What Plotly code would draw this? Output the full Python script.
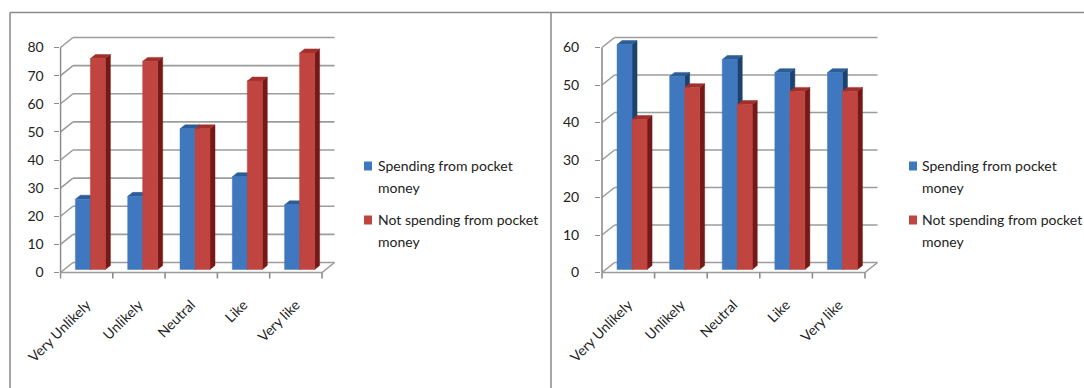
import plotly.graph_objects as go

# ---- data -------------------------------------------------------------
categories = ["Very Unlikely", "Unlikely", "Neutral", "Like", "Very like"]
series_labels = [["Spending from pocket", "money"],
                 ["Not spending from pocket", "money"]]

left_spending = [25, 26, 50, 33, 23]
left_not_spending = [75, 74, 50, 67, 77]
left_ticks = [0, 10, 20, 30, 40, 50, 60, 70, 80]

right_spending = [60, 51.5, 56, 52.5, 52.5]
right_not_spending = [40, 48.5, 44, 47.5, 47.5]
right_ticks = [0, 10, 20, 30, 40, 50, 60]

# ---- styling ----------------------------------------------------------
W, H = 1084, 388
FONT = "Lato, Carlito, Calibri, 'Open Sans', sans-serif"
TEXT = "#222222"
GRID = "#9c9c9c"
AXIS = "#8c8c8c"
BLUE = dict(front="#4078bf", top="#2c5d97", side="#1c426e")
RED = dict(front="#c0443f", top="#a1302c", side="#761916")

# pixel frame of each 3-D plot (front-left corner, front-right corner,
# zero level, top tick level) and the subplot box around it
panels = [
    dict(series=(left_spending, left_not_spending), ticks=left_ticks,
         fx0=60.5, fx1=322.0, y0=272.5, ytop=47.5,
         dl=59.5, dr=346.0, dt=20.0, db=279.0, standoff=7,
         legend_x=364.0, legend_text_x=376.0),
    dict(series=(right_spending, right_not_spending), ticks=right_ticks,
         fx0=602.0, fx1=865.0, y0=272.5, ytop=47.5,
         dl=601.0, dr=888.0, dt=20.0, db=279.0, standoff=13,
         legend_x=909.0, legend_text_x=920.0),
]

DEPTH_X, DEPTH_Y = 12.5, 10.0      # wall depth in pixels (right, up)
BAR_PX = 15.0                      # bar face width in pixels
FRONT_FRAC, BACK_FRAC = 0.3, 0.7   # bar position inside the depth

fig = go.Figure()
layout_axes = {}
shapes = []
annotations = []


def closed(pts):
    xs = [p[0] for p in pts] + [pts[0][0], None]
    ys = [p[1] for p in pts] + [pts[0][1], None]
    return xs, ys


for k, p in enumerate(panels, start=1):
    xa = "x" if k == 1 else f"x{k}"
    ya = "y" if k == 1 else f"y{k}"
    ppx = (p["fx1"] - p["fx0"]) / len(categories)
    ppy = (p["y0"] - p["ytop"]) / p["ticks"][-1]

    def dx(px):
        return px / ppx

    def dy(px):
        return px / ppy

    def to_x(px):
        return -0.5 + (px - p["fx0"]) / ppx

    def to_y(py):
        return (p["y0"] - py) / ppy

    bx, by = dx(DEPTH_X), dy(DEPTH_Y)
    left_edge, right_edge = -0.5, len(categories) - 0.5
    top = p["ticks"][-1]

    def line(xs, ys, color=GRID, width=1.6):
        fig.add_trace(go.Scatter(x=xs, y=ys, mode="lines", xaxis=xa, yaxis=ya,
                                 line=dict(color=color, width=width),
                                 hoverinfo="skip", showlegend=False))

    # back wall gridlines and side wall diagonals
    gx, gy = [], []
    for t in p["ticks"]:
        gx += [left_edge + bx, right_edge + bx, None]
        gy += [t + by, t + by, None]
        gx += [left_edge, left_edge + bx, None]
        gy += [t, t + by, None]
    line(gx, gy)
    # floor edges
    line([left_edge, right_edge, right_edge + bx], [0, 0, by])
    # value axis line
    line([left_edge, left_edge], [0, top], color=AXIS)
    # category boundary tick marks
    tx, ty = [], []
    for b in range(len(categories) + 1):
        tx += [left_edge + b, left_edge + b, None]
        ty += [0, -dy(6), None]
    line(tx, ty, color=AXIS)

    # 3-D columns: front, top and side faces
    w = dx(BAR_PX)
    fxo, fyo = FRONT_FRAC * bx, FRONT_FRAC * by
    ddx, ddy = (BACK_FRAC - FRONT_FRAC) * bx, (BACK_FRAC - FRONT_FRAC) * by
    for s, (vals, col) in enumerate(zip(p["series"], (BLUE, RED))):
        faces = {"side": ([], []), "front": ([], []), "top": ([], [])}
        for i, v in enumerate(vals):
            xl = i - w + s * w + fxo
            xr = xl + w
            b0, b1 = fyo, v + fyo
            for name, pts in (
                ("front", [(xl, b0), (xr, b0), (xr, b1), (xl, b1)]),
                ("top", [(xl, b1), (xr, b1), (xr + ddx, b1 + ddy), (xl + ddx, b1 + ddy)]),
                ("side", [(xr, b0), (xr + ddx, b0 + ddy), (xr + ddx, b1 + ddy), (xr, b1)]),
            ):
                xs, ys = closed(pts)
                faces[name][0].extend(xs)
                faces[name][1].extend(ys)
        for name in ("side", "top", "front"):
            fig.add_trace(go.Scatter(
                x=faces[name][0], y=faces[name][1], mode="lines", fill="toself",
                fillcolor=col[name], line=dict(color=col[name], width=0.5),
                xaxis=xa, yaxis=ya, hoverinfo="skip", showlegend=False))

    layout_axes[f"xaxis{'' if k == 1 else k}"] = dict(
        domain=[p["dl"] / W, p["dr"] / W], range=[to_x(p["dl"]), to_x(p["dr"])],
        anchor=ya, tickmode="array", tickvals=list(range(len(categories))),
        ticktext=categories, tickangle=-45, ticks="", showgrid=False,
        zeroline=False, showline=False, ticklabelstandoff=14, automargin=False,
        tickfont=dict(family=FONT, size=14, color=TEXT), fixedrange=True)
    layout_axes[f"yaxis{'' if k == 1 else k}"] = dict(
        domain=[1 - p["db"] / H, 1 - p["dt"] / H], range=[to_y(p["db"]), to_y(p["dt"])],
        anchor=xa, tickmode="array", tickvals=p["ticks"], ticks="outside",
        ticklen=5, tickcolor=AXIS, tickwidth=1.4, showgrid=False, zeroline=False,
        showline=False, ticklabelstandoff=p["standoff"], automargin=False,
        tickfont=dict(family=FONT, size=14, color=TEXT), fixedrange=True)

    # legend keys
    for s, (col, lines_) in enumerate(zip((BLUE, RED), series_labels)):
        yc = 166.0 + s * 54.0
        shapes.append(dict(type="rect", xref="paper", yref="paper",
                           x0=p["legend_x"] / W, x1=(p["legend_x"] + 8) / W,
                           y0=1 - (yc + 4.5) / H, y1=1 - (yc - 4.5) / H,
                           fillcolor=col["front"], line=dict(width=0)))
        for j, txt in enumerate(lines_):
            annotations.append(dict(
                text=txt, xref="paper", yref="paper", showarrow=False,
                x=p["legend_text_x"] / W, y=1 - (yc + j * 22.0 - 1) / H,
                xanchor="left", yanchor="middle",
                font=dict(family=FONT, size=14, color=TEXT)))

# panel borders
border = dict(color="#8a8a8a", width=1.5)
shapes += [
    dict(type="line", xref="paper", yref="paper", x0=10 / W, x1=1, y0=1 - 12.5 / H, y1=1 - 12.5 / H, line=border),
    dict(type="line", xref="paper", yref="paper", x0=10 / W, x1=10 / W, y0=0, y1=1 - 12.5 / H, line=border),
    dict(type="line", xref="paper", yref="paper", x0=551 / W, x1=551 / W, y0=0, y1=1 - 12.5 / H, line=border),
]

fig.update_layout(
    width=W, height=H, margin=dict(l=0, r=0, t=0, b=0, autoexpand=False),
    paper_bgcolor="white", plot_bgcolor="rgba(0,0,0,0)",
    showlegend=False, shapes=shapes, annotations=annotations,
    **layout_axes)

fig.write_html("out.html", config={"displayModeBar": False})
